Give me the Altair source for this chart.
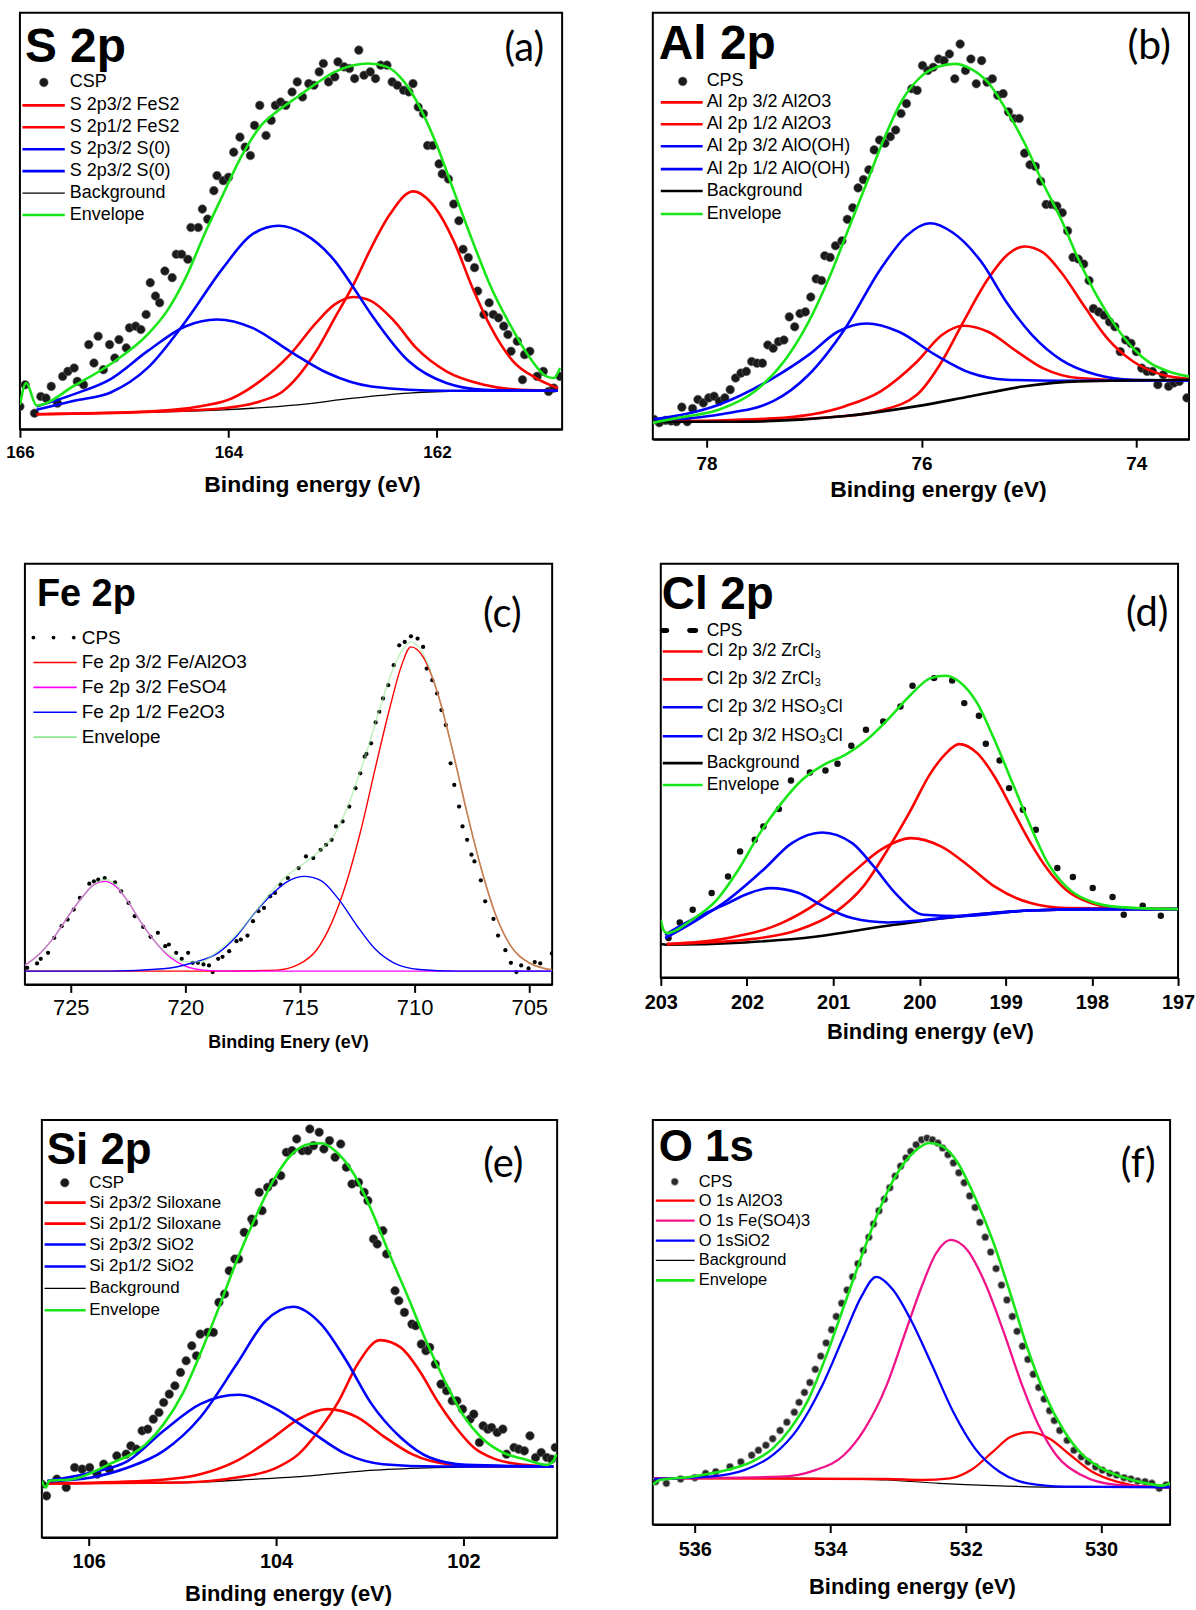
import altair as alt
import pandas as pd

FONT = "Liberation Sans"
NARROW = "Liberation Sans Narrow, Arial Narrow, Liberation Sans"
TAGFONT = "Lato, Open Sans, Liberation Sans"

RED = "#ff0000"
BLUE = "#0000ff"
GREEN = "#19e619"
BLACK = "#000000"
MAGENTA = "#ff00ff"
LIGHTGREEN = "#8fe88f"
PINK = "#f0138a"

# ---------------- (a) S 2p ----------------
A_XDOM = [166.0, 160.8]
A_YDOM = [0, 124.5]
A_TICKS = [166, 164, 162]
A_CPS = [(166.00,6.8),(165.95,13.3),(165.86,4.8),(165.80,9.8),(165.75,9.3),(165.70,12.8),(165.64,7.8),(165.59,15.8),(165.54,17.3),(165.48,18.3),(165.45,14.3),(165.39,13.3),(165.34,25.3),(165.29,19.8),(165.25,27.8),(165.20,17.8),(165.14,25.3),(165.09,21.3),(165.05,26.8),(164.98,24.3),(164.95,30.3),(164.89,30.8),(164.84,29.8),(164.79,34.3),(164.75,43.8),(164.70,39.8),(164.66,37.8),(164.61,47.3),(164.54,45.3),(164.50,52.3),(164.45,52.3),(164.39,50.8),(164.36,60.3),(164.29,60.3),(164.25,65.8),(164.20,62.8),(164.14,71.3),(164.11,75.8),(164.05,74.3),(164.00,75.3),(163.95,82.8),(163.89,87.3),(163.84,84.3),(163.79,81.8),(163.75,90.8),(163.70,96.8),(163.64,87.8),(163.59,92.3),(163.55,96.8),(163.50,97.8),(163.45,96.8),(163.39,100.8),(163.34,103.8),(163.29,99.3),(163.23,103.3),(163.18,102.8),(163.13,106.8),(163.09,109.3),(163.04,103.8),(162.98,105.3),(162.95,109.8),(162.89,108.3),(162.84,107.8),(162.79,104.8),(162.75,113.3),(162.70,105.8),(162.64,106.8),(162.59,104.8),(162.54,108.8),(162.48,108.8),(162.43,103.8),(162.38,102.8),(162.32,101.3),(162.27,100.8),(162.23,103.3),(162.18,96.3),(162.13,94.3),(162.09,84.8),(162.04,84.8),(161.98,79.3),(161.95,76.3),(161.89,74.8),(161.84,67.3),(161.79,62.3),(161.75,53.8),(161.70,51.3),(161.64,48.3),(161.61,41.3),(161.55,34.3),(161.50,37.8),(161.46,34.3),(161.41,33.3),(161.36,30.8),(161.32,28.3),(161.29,23.3),(161.23,26.3),(161.16,22.3),(161.11,23.3),(161.18,14.8),(161.04,15.8),(160.98,17.3),(160.93,11.3),(160.88,12.3),(160.82,15.8)]
A_BG = [(165.84,4.5),(164.77,5.1),(164.05,5.8),(163.34,7.3),(162.80,9.3),(162.27,10.8),(161.73,11.5),(160.84,11.8)]
A_R1 = [(165.84,4.5),(164.77,5.2),(164.05,6.3),(163.70,8.3),(163.48,11.3),(163.16,23.3),(162.98,33.3),(162.80,43.3),(162.63,54.3),(162.45,64.3),(162.23,71.1),(162.02,66.3),(161.84,56.3),(161.66,42.3),(161.48,30.3),(161.27,20.3),(161.05,15.3),(160.84,12.3)]
A_R2 = [(165.84,4.5),(164.77,5.3),(164.05,8.3),(163.70,14.3),(163.41,22.3),(163.16,31.8),(162.98,37.3),(162.80,39.5),(162.63,38.3),(162.41,32.3),(162.20,24.3),(161.91,17.3),(161.55,13.3),(161.20,11.8),(160.84,11.5)]
A_B1 = [(165.84,5.8),(165.48,8.5),(165.13,11.0),(164.77,18.5),(164.41,32.3),(164.05,48.3),(163.77,58.3),(163.52,60.8),(163.27,58.3),(162.98,50.3),(162.80,42.3),(162.63,34.3),(162.27,20.3),(161.91,13.8),(161.55,11.8),(160.84,11.5)]
A_B2 = [(165.84,6.8),(165.48,10.5),(165.13,15.0),(164.77,23.5),(164.41,30.8),(164.11,32.8),(163.77,30.3),(163.41,23.3),(163.05,16.8),(162.63,12.8),(161.91,11.5),(160.84,11.5)]
A_ENV = [(166.00,7.3),(165.94,13.8),(165.84,7.1),(165.48,13.0),(165.13,19.5),(164.77,28.5),(164.59,35.3),(164.41,45.3),(164.23,58.3),(164.05,70.3),(163.88,81.3),(163.70,90.3),(163.52,95.3),(163.34,99.3),(163.16,103.3),(162.98,106.8),(162.80,108.8),(162.66,109.3),(162.48,108.3),(162.34,104.8),(162.20,98.3),(162.02,86.3),(161.84,71.3),(161.66,56.3),(161.48,42.3),(161.30,31.3),(161.13,22.3),(160.95,15.8),(160.88,15.3),(160.82,18.3)]
A_LABELS = ["CSP", "S 2p3/2 FeS2", "S 2p1/2 FeS2", "S 2p3/2 S(0)", "S 2p3/2 S(0)", "Background", "Envelope"]

# ---------------- (b) Al 2p ----------------
B_XDOM = [78.5, 73.51]
B_YDOM = [0, 129]
B_TICKS = [78, 76, 74]
B_CPS = [(78.49,6.0),(78.44,5.0),(78.38,5.7),(78.33,5.5),(78.28,5.3),(78.23,9.7),(78.18,5.3),(78.13,9.3),(78.08,12.0),(78.03,11.0),(77.98,12.5),(77.93,13.0),(77.88,11.5),(77.83,12.5),(77.78,15.0),(77.73,18.5),(77.68,20.0),(77.63,20.5),(77.58,23.5),(77.53,23.0),(77.48,23.0),(77.43,28.5),(77.38,27.5),(77.33,29.5),(77.28,30.0),(77.23,37.0),(77.18,34.0),(77.13,38.0),(77.08,38.5),(77.03,43.0),(76.98,48.5),(76.93,48.0),(76.90,55.5),(76.85,55.0),(76.80,58.5),(76.74,60.0),(76.69,66.5),(76.64,70.0),(76.59,76.0),(76.54,78.5),(76.49,81.5),(76.44,87.5),(76.39,90.5),(76.34,89.5),(76.29,91.5),(76.24,93.5),(76.19,98.5),(76.14,101.5),(76.09,106.0),(76.04,105.5),(75.99,113.0),(75.94,111.5),(75.89,112.5),(75.84,115.0),(75.79,114.5),(75.74,116.5),(75.69,109.0),(75.64,119.5),(75.59,111.5),(75.54,115.0),(75.49,107.5),(75.44,114.5),(75.39,108.0),(75.34,109.0),(75.29,104.0),(75.24,104.5),(75.19,99.0),(75.14,97.0),(75.09,97.0),(75.04,86.5),(74.99,83.0),(74.94,82.5),(74.89,78.0),(74.84,71.0),(74.79,71.0),(74.74,70.5),(74.69,68.5),(74.64,63.0),(74.59,55.0),(74.54,54.5),(74.49,53.0),(74.44,48.0),(74.40,39.5),(74.35,38.5),(74.30,37.5),(74.25,35.5),(74.20,34.0),(74.15,26.5),(74.10,30.0),(74.05,29.0),(74.00,26.5),(73.95,21.5),(73.90,20.5),(73.85,20.5),(73.80,16.5),(73.75,19.5),(73.70,16.0),(73.65,17.0),(73.60,17.5),(73.53,12.5)]
B_BG = [(78.49,5.3),(77.72,5.3),(76.71,7.0),(76.04,10.0),(75.54,13.0),(75.04,16.0),(74.54,17.5),(73.51,18.0)]
B_R1 = [(78.49,5.3),(77.72,5.5),(76.71,7.0),(76.38,8.7),(76.04,13.5),(75.81,23.5),(75.61,35.5),(75.38,48.5),(75.21,55.5),(75.04,58.3),(74.87,56.5),(74.70,50.5),(74.47,39.5),(74.27,30.5),(74.03,23.5),(73.76,19.5),(73.51,18.3)]
B_R2 = [(78.49,5.3),(77.38,6.3),(76.71,10.0),(76.38,14.5),(76.04,23.5),(75.81,31.5),(75.61,34.3),(75.38,32.5),(75.11,26.5),(74.87,21.5),(74.54,18.5),(74.03,17.8),(73.51,18.0)]
B_B1 = [(78.49,5.7),(77.88,7.5),(77.38,11.5),(77.05,19.5),(76.71,33.5),(76.38,51.5),(76.14,61.5),(75.92,65.3),(75.71,62.5),(75.44,53.5),(75.21,41.5),(74.97,31.5),(74.70,24.0),(74.37,19.5),(74.03,18.0),(73.51,17.8)]
B_B2 = [(78.49,6.0),(77.88,10.5),(77.38,18.5),(77.05,25.5),(76.78,32.5),(76.51,35.0),(76.21,32.5),(75.87,25.5),(75.54,20.0),(75.21,18.0),(74.70,17.7),(73.51,17.8)]
B_ENV = [(78.50,5.0),(78.22,6.7),(77.88,9.0),(77.55,14.5),(77.28,23.5),(77.05,35.5),(76.85,49.5),(76.68,63.5),(76.51,77.5),(76.34,91.5),(76.18,102.5),(76.01,109.5),(75.84,112.7),(75.69,113.5),(75.54,112.0),(75.37,107.5),(75.21,99.5),(75.04,89.5),(74.87,77.5),(74.70,66.5),(74.54,54.5),(74.37,43.5),(74.20,34.5),(74.03,27.5),(73.87,23.0),(73.70,20.5),(73.51,19.0)]
B_LABELS = ["CPS", "Al 2p 3/2 Al2O3", "Al 2p 1/2 Al2O3", "Al 2p 3/2 AlO(OH)", "Al 2p 1/2 AlO(OH)", "Background", "Envelope"]

# ---------------- (c) Fe 2p ----------------
C_XDOM = [727.0, 704.0]
C_YDOM = [0, 126.5]
C_TICKS = [725, 720, 715, 710, 705]
C_CPS = [(727.06,1.5),(726.90,5.0),(726.47,6.3),(726.31,7.7),(725.99,9.5),(725.72,14.0),(725.40,17.5),(725.14,19.5),(724.87,22.5),(724.60,26.0),(724.19,30.3),(723.99,31.0),(723.80,31.5),(723.52,32.0),(723.07,30.7),(722.80,28.0),(722.48,24.5),(722.21,20.5),(721.84,17.3),(721.52,14.3),(721.20,15.5),(720.88,11.5),(720.72,12.0),(720.40,9.5),(720.16,7.7),(719.88,9.5),(719.68,6.5),(719.45,6.5),(719.21,6.0),(718.97,5.7),(718.81,3.7),(718.57,7.7),(718.38,8.3),(718.09,10.0),(717.77,13.0),(717.58,13.5),(717.29,14.7),(717.05,19.0),(716.81,22.0),(716.57,23.0),(716.30,26.5),(716.09,27.5),(715.85,30.0),(715.53,32.0),(715.06,35.0),(714.74,38.5),(714.42,38.0),(714.10,40.5),(713.86,42.0),(713.62,43.5),(713.43,47.5),(713.14,49.0),(712.85,53.5),(712.58,59.0),(712.37,63.5),(712.18,68.5),(712.10,69.3),(711.90,72.5),(711.70,78.8),(711.54,82.0),(711.38,86.0),(711.15,90.0),(710.91,96.0),(710.67,102.0),(710.43,103.0),(710.16,104.7),(709.87,104.0),(709.63,101.5),(709.47,95.0),(709.23,91.5),(709.02,87.5),(708.83,82.5),(708.64,78.0),(708.43,66.5),(708.27,60.0),(708.06,53.5),(707.91,47.5),(707.71,43.5),(707.52,39.0),(707.39,37.0),(707.11,31.3),(706.92,25.0),(706.56,19.7),(706.36,14.7),(706.04,10.3),(705.80,6.5),(705.56,3.7),(705.35,5.7),(705.03,4.8),(704.76,6.7),(704.52,6.3),(704.01,9.3)]
C_RED = [(727.06,4.0),(718.57,4.0),(716.01,4.3),(715.06,6.0),(714.26,10.5),(713.62,18.5),(712.98,30.5),(712.34,46.5),(711.70,65.5),(711.07,83.5),(710.59,95.5),(710.16,101.5),(709.63,98.5),(708.99,87.5),(708.35,70.5),(707.71,51.5),(707.08,34.5),(706.44,20.5),(705.80,11.5),(705.00,6.5),(703.92,4.3)]
C_MAG = [(727.06,5.5),(726.39,9.0),(725.75,14.0),(725.11,20.5),(724.47,26.5),(723.99,30.0),(723.52,31.0),(723.04,29.5),(722.56,25.5),(721.92,18.5),(721.28,12.5),(720.64,8.0),(720.00,5.5),(719.21,4.3),(718.25,4.0),(703.92,4.0)]
C_BLUE = [(727.06,4.0),(723.36,4.0),(720.96,4.7),(719.68,6.5),(718.57,9.5),(717.77,14.5),(716.97,21.5),(716.17,27.5),(715.53,31.0),(714.82,32.5),(714.10,31.3),(713.30,25.5),(712.50,17.5),(711.70,10.5),(710.91,6.5),(709.79,4.5),(708.19,4.0),(703.92,4.0)]
C_ENV = [(727.06,5.5),(726.39,9.0),(725.75,14.0),(725.11,20.5),(724.47,26.5),(723.99,30.0),(723.52,31.5),(723.04,30.0),(722.56,25.5),(721.92,18.5),(721.28,12.5),(720.64,8.5),(720.00,6.8),(719.37,6.8),(718.57,10.0),(717.77,15.0),(716.97,21.5),(716.17,28.5),(715.69,32.0),(714.90,36.0),(714.10,40.5),(713.46,45.5),(712.98,52.5),(712.50,61.5),(712.02,71.5),(711.54,82.5),(711.07,92.5),(710.59,100.0),(710.16,103.0),(709.63,99.5),(708.99,87.5),(708.35,70.5),(707.71,51.5),(707.08,34.5),(706.44,20.5),(705.80,11.5),(705.00,6.5),(703.92,4.3)]
C_LABELS = ["CPS", "Fe 2p 3/2 Fe/Al2O3", "Fe 2p 3/2 FeSO4", "Fe 2p 1/2 Fe2O3", "Envelope"]

# ---------------- (d) Cl 2p ----------------
D_XDOM = [203.0, 197.0]
D_YDOM = [0, 124.1]
D_TICKS = [203, 202, 201, 200, 199, 198, 197]
D_CPS = [(202.91,11.8),(202.78,16.5),(202.63,20.3),(202.41,25.3),(202.22,30.3),(202.08,37.8),(201.91,41.3),(201.81,45.3),(201.63,50.5),(201.49,59.1),(201.27,61.5),(201.09,62.1),(200.95,64.1),(200.79,69.5),(200.62,74.3),(200.42,76.8),(200.22,81.3),(200.08,87.5),(199.83,89.8),(199.62,89.1),(199.48,82.3),(199.31,78.5),(199.23,70.1),(199.07,65.1),(198.96,56.8),(198.80,50.3),(198.65,44.3),(198.40,32.8),(198.22,30.1),(197.99,26.8),(197.76,24.1),(197.63,18.8),(197.41,21.5),(197.20,18.5)]
D_BG = [(203.0,10.0),(202.93,9.8),(202.02,10.5),(201.19,12.3),(200.37,15.5),(199.54,18.3),(198.71,20.1),(197.89,20.5),(197.0,20.5)]
D_R1 = [(202.93,10.0),(202.02,11.3),(201.40,14.3),(200.99,19.3),(200.65,27.3),(200.37,38.3),(200.12,49.3),(199.87,61.3),(199.70,67.0),(199.54,70.0),(199.33,67.3),(199.13,60.3),(198.92,50.3),(198.71,40.3),(198.51,32.3),(198.30,26.3),(198.01,22.3),(197.68,20.8),(197.0,20.5)]
D_R2 = [(202.93,10.0),(202.22,11.8),(201.60,16.3),(201.19,22.3),(200.78,31.3),(200.45,38.3),(200.10,41.8),(199.75,39.3),(199.42,33.3),(199.13,27.3),(198.71,22.3),(198.30,20.8),(197.0,20.5)]
D_B1 = [(202.95,11.8),(202.64,16.3),(202.22,23.3),(201.81,32.3),(201.48,40.3),(201.13,43.5),(200.78,40.3),(200.53,33.3),(200.28,25.3),(199.95,18.8),(199.54,18.4),(198.71,20.1),(197.89,20.5),(197.0,20.5)]
D_B2 = [(202.95,12.8),(202.64,17.3),(202.22,22.3),(202.02,24.8),(201.73,26.8),(201.40,25.3),(201.11,21.3),(200.78,17.8),(200.37,16.5),(199.95,17.2),(199.54,18.4),(198.71,20.1),(197.89,20.5),(197.0,20.5)]
D_ENV = [(203.0,17.3),(202.97,14.3),(202.93,13.3),(202.64,17.3),(202.35,23.3),(202.10,32.3),(201.85,43.3),(201.60,52.3),(201.36,59.3),(201.11,63.8),(200.86,66.8),(200.61,71.3),(200.37,77.3),(200.12,84.3),(199.87,89.8),(199.70,90.5),(199.54,88.8),(199.33,82.3),(199.13,71.3),(198.92,58.3),(198.71,45.3),(198.51,34.3),(198.30,27.3),(198.01,22.8),(197.68,21.1),(197.0,20.5)]
D_LABELS = ["CPS", "Cl 2p 3/2 ZrCl\u2083", "Cl 2p 3/2 ZrCl\u2083", "Cl 2p 3/2 HSO\u2083Cl", "Cl 2p 3/2 HSO\u2083Cl", "Background", "Envelope"]

# ---------------- (e) Si 2p ----------------
E_XDOM = [106.5, 101.0]
E_YDOM = [0, 125.2]
E_TICKS = [106, 104, 102]
E_CPS = [(106.50,16.0),(106.45,12.5),(106.34,17.5),(106.24,15.0),(106.15,21.0),(106.07,20.5),(105.99,21.0),(105.91,19.0),(105.84,22.0),(105.78,20.5),(105.70,24.5),(105.60,25.0),(105.55,27.5),(105.49,26.5),(105.43,32.0),(105.37,32.5),(105.31,35.5),(105.25,37.5),(105.20,40.5),(105.14,43.0),(105.08,45.5),(105.02,49.5),(104.96,53.0),(104.90,57.5),(104.85,54.5),(104.81,61.0),(104.73,61.5),(104.67,61.5),(104.61,70.5),(104.55,73.0),(104.50,80.0),(104.44,83.5),(104.40,83.5),(104.34,91.5),(104.26,95.5),(104.24,94.5),(104.18,103.5),(104.15,98.0),(104.09,105.0),(104.03,106.5),(103.95,108.5),(103.89,115.5),(103.83,116.0),(103.78,119.5),(103.72,116.0),(103.66,116.0),(103.64,122.5),(103.60,117.5),(103.54,121.5),(103.49,116.5),(103.43,119.0),(103.37,114.0),(103.31,118.0),(103.25,111.0),(103.19,106.0),(103.12,106.5),(103.06,103.5),(103.02,101.0),(102.96,89.5),(102.92,88.0),(102.86,92.0),(102.82,85.0),(102.73,74.0),(102.69,71.0),(102.63,67.5),(102.55,64.0),(102.51,63.5),(102.45,58.0),(102.40,56.0),(102.36,57.0),(102.30,52.0),(102.24,46.0),(102.18,44.0),(102.12,41.0),(102.07,41.0),(102.01,38.5),(101.93,35.5),(101.89,37.0),(101.83,28.5),(101.79,33.5),(101.74,32.5),(101.70,33.0),(101.64,31.5),(101.58,32.5),(101.54,25.0),(101.46,27.0),(101.41,26.5),(101.35,26.0),(101.29,30.5),(101.23,24.0),(101.17,25.5),(101.11,24.0),(101.06,23.5),(101.02,27.0)]
E_BG = [(106.51,16.2),(105.00,16.5),(104.22,17.5),(103.64,18.5),(103.06,20.0),(102.47,20.8),(101.89,21.2),(101.04,21.3)]
E_R1 = [(106.44,16.2),(105.00,16.5),(104.42,18.0),(104.03,20.5),(103.76,25.0),(103.52,33.0),(103.33,41.0),(103.13,52.0),(102.89,59.2),(102.67,57.0),(102.47,50.0),(102.28,41.0),(102.08,33.0),(101.89,27.0),(101.66,23.5),(101.35,21.8),(101.04,21.3)]
E_R2 = [(106.44,16.2),(105.39,17.0),(104.81,19.0),(104.42,23.0),(104.03,30.0),(103.76,35.5),(103.45,38.5),(103.13,36.0),(102.86,30.5),(102.55,25.0),(102.16,22.0),(101.70,21.3),(101.04,21.3)]
E_B1 = [(106.44,16.8),(105.97,18.0),(105.58,21.0),(105.20,26.0),(104.81,36.0),(104.42,52.0),(104.11,65.0),(103.82,69.2),(103.52,64.0),(103.25,53.0),(102.98,40.0),(102.67,30.0),(102.36,24.0),(101.97,21.8),(101.04,21.3)]
E_B2 = [(106.44,17.0),(105.97,19.5),(105.58,23.0),(105.20,32.0),(104.81,40.0),(104.40,42.8),(104.03,39.0),(103.64,32.0),(103.25,25.0),(102.86,22.0),(102.28,21.3),(101.04,21.3)]
E_ENV = [(106.50,17.0),(106.46,15.0),(106.42,17.0),(106.17,17.5),(105.78,22.0),(105.39,28.0),(105.20,34.0),(105.00,43.0),(104.81,55.0),(104.61,69.0),(104.42,83.0),(104.22,96.0),(104.03,107.0),(103.83,115.0),(103.64,118.0),(103.52,118.2),(103.37,116.0),(103.17,109.0),(102.98,98.0),(102.79,85.0),(102.59,72.0),(102.40,59.0),(102.20,47.0),(102.01,37.0),(101.81,30.0),(101.58,25.5),(101.35,23.5),(101.11,21.8),(101.04,23.0),(101.01,25.0)]
E_LABELS = ["CSP", "Si 2p3/2 Siloxane", "Si 2p1/2 Siloxane", "Si 2p3/2 SiO2", "Si 2p1/2 SiO2", "Background", "Envelope"]

# ---------------- (f) O 1s ----------------
F_XDOM = [536.62, 528.98]
F_YDOM = [0, 122.5]
F_TICKS = [536, 534, 532, 530]
F_CPS = [(536.58,13.0),(536.42,12.5),(536.21,13.8),(536.00,14.2),(535.84,15.5),(535.69,16.0),(535.48,17.5),(535.32,19.0),(535.16,21.0),(535.06,22.5),(534.95,24.0),(534.85,26.0),(534.74,28.5),(534.64,31.0),(534.53,34.0),(534.46,37.0),(534.38,40.0),(534.30,43.0),(534.22,47.0),(534.14,51.0),(534.06,55.0),(533.98,59.0),(533.91,63.0),(533.83,67.0),(533.75,71.0),(533.67,75.0),(533.59,79.0),(533.51,83.0),(533.43,87.0),(533.36,91.0),(533.28,95.0),(533.20,98.5),(533.12,102.0),(533.04,105.5),(532.96,108.5),(532.88,111.0),(532.81,113.0),(532.73,115.0),(532.65,116.5),(532.57,117.0),(532.49,116.5),(532.41,115.5),(532.34,114.0),(532.26,112.0),(532.18,109.5),(532.10,106.5),(532.02,103.5),(531.94,99.5),(531.86,96.0),(531.79,91.5),(531.71,87.0),(531.63,82.5),(531.55,77.5),(531.47,72.5),(531.39,68.0),(531.31,63.0),(531.24,58.5),(531.16,54.0),(531.08,50.0),(531.00,45.5),(530.92,41.5),(530.84,38.0),(530.76,34.5),(530.69,31.5),(530.61,28.5),(530.50,25.5),(530.40,22.5),(530.29,20.5),(530.19,19.0),(530.08,17.5),(529.98,16.5),(529.87,15.5),(529.77,15.0),(529.66,14.2),(529.56,13.8),(529.46,13.2),(529.35,13.0),(529.25,12.5),(529.14,11.0),(529.04,12.0)]
F_BG = [(536.60,14.0),(535.27,14.2),(534.22,14.0),(533.17,13.5),(532.39,12.5),(531.60,11.8),(530.55,11.3),(528.98,11.3)]
F_BLUE = [(536.60,13.8),(535.79,14.5),(535.27,16.5),(534.85,21.0),(534.48,29.0),(534.12,42.0),(533.80,57.0),(533.54,69.0),(533.32,75.0),(533.07,71.0),(532.81,62.0),(532.49,48.0),(532.18,34.0),(531.86,23.0),(531.50,16.0),(531.08,12.5),(530.55,11.5),(528.98,11.3)]
F_PINK = [(536.60,14.0),(534.74,14.5),(534.22,16.5),(533.80,21.0),(533.49,29.0),(533.17,42.0),(532.91,57.0),(532.65,72.0),(532.44,82.0),(532.22,86.2),(531.97,83.0),(531.71,73.0),(531.45,59.0),(531.18,43.0),(530.92,30.0),(530.66,21.0),(530.29,15.0),(529.77,12.0),(528.98,11.3)]
F_RED = [(536.60,14.0),(533.17,13.8),(532.65,13.5),(532.23,14.0),(531.92,16.5),(531.60,22.0),(531.34,26.5),(531.05,28.0),(530.76,26.0),(530.45,21.0),(530.13,16.0),(529.77,13.0),(529.35,11.5),(528.98,11.3)]
F_ENV = [(536.62,12.0),(536.52,13.5),(536.05,14.5),(535.53,16.5),(535.16,19.0),(534.85,23.0),(534.59,29.0),(534.32,38.0),(534.06,51.0),(533.80,66.0),(533.54,81.0),(533.28,95.0),(533.02,106.0),(532.75,113.0),(532.54,115.5),(532.34,114.5),(532.13,110.0),(531.86,99.0),(531.60,86.0),(531.34,70.0),(531.08,53.0),(530.82,39.0),(530.55,28.5),(530.29,21.5),(530.03,17.5),(529.77,15.0),(529.40,12.8),(529.09,11.8),(528.98,12.5)]
F_LABELS = ["CPS", "O 1s Al2O3", "O 1s Fe(SO4)3", "O 1sSiO2", "Background", "Envelope"]

X_TITLE = "Binding energy (eV)"
X_TITLE_C = "Binding Enery (eV)"


def frame(pairs):
    return pd.DataFrame(pairs, columns=["x", "y"])


def one():
    return pd.DataFrame({"k": [0]})


def vtext(label, x, y, size, font=FONT, weight="normal", align="left", baseline="middle"):
    return alt.Chart(pd.DataFrame({"t": [label]})).mark_text(
        align=align, baseline=baseline, font=font, fontSize=size,
        fontWeight=weight, color="black"
    ).encode(x=alt.value(x), y=alt.value(y), text="t:N")


def vrule(x1, x2, y, color, w, cap="butt"):
    return alt.Chart(one()).mark_rule(color=color, strokeWidth=w, strokeCap=cap).encode(
        x=alt.value(x1), x2=alt.value(x2), y=alt.value(y))


def vdot(x, y, size, fill, stroke="#555555", sw=0.5):
    return alt.Chart(one()).mark_point(
        filled=True, shape="circle", size=size, fill=fill, stroke=stroke,
        strokeWidth=sw, opacity=1
    ).encode(x=alt.value(x), y=alt.value(y))


def panel(p):
    xs = alt.Scale(domain=p["xdom"], nice=False, zero=False)
    ys = alt.Scale(domain=p["ydom"], nice=False, zero=False)
    ax = alt.Axis(
        values=p["ticks"], format="d", labelFont=p.get("lfont", FONT),
        labelFontSize=p["lsize"], labelFontWeight=p.get("lweight", "bold"),
        labelColor="black", labelFlush=False, labelPadding=p["lpad"],
        labelOverlap=False, tickSize=8, tickWidth=2, tickColor="black",
        domainColor="black", domainWidth=2, grid=False,
        title=p["xtitle"], titleFont=FONT, titleFontSize=p["tsize"],
        titleFontWeight="bold", titleColor="black", titleX=p["tx"],
        titleY=p["ty"], titleAlign="center", titleBaseline="middle",
    )
    X = alt.X("x:Q", scale=xs, axis=ax)
    Y = alt.Y("y:Q", scale=ys, axis=None)
    layers = []
    cp = p["cps"]
    layers.append(
        alt.Chart(frame(cp["pairs"])).mark_point(
            filled=True, shape="circle", size=cp["size"], fill=cp["fill"],
            stroke=cp["stroke"], strokeWidth=cp["sw"], opacity=1, clip=True
        ).encode(x=X, y=Y)
    )
    for pairs, color, w, op in p["curves"]:
        layers.append(
            alt.Chart(frame(pairs)).mark_line(
                color=color, strokeWidth=w, opacity=op,
                interpolate="monotone", clip=True
            ).encode(x=X, y=Y)
        )
    lg = p["legend"]
    for i, (kind, label, color, w) in enumerate(lg["entries"]):
        y = lg["rows"][i]
        if kind == "point":
            layers.append(vdot(lg["cx"], y, cp["size"], cp["fill"], cp["stroke"], cp["sw"]))
        elif kind == "dots3":
            for dx in lg["dots"]:
                layers.append(vdot(dx, y, 14, "#000000", "#000000", 0))
        elif kind == "dash2":
            for a, b in lg["dashes"]:
                layers.append(vrule(a, b, y, "#000000", 5, "round"))
        else:
            layers.append(vrule(lg["x1"], lg["x2"], y, color, w))
        layers.append(vtext(label, lg["tx"], y, lg["size"]))
    t = p["title"]
    layers.append(vtext(t["text"], t["x"], t["y"], t["size"], weight="bold", baseline="alphabetic"))
    g = p["tag"]
    layers.append(vtext(g["text"], g["x"], g["y"], g["size"], font=TAGFONT, align="center", baseline="alphabetic"))
    return alt.layer(*layers).properties(
        width=p["w"], height=p["h"],
        view=alt.ViewBackground(stroke="black", strokeWidth=2),
    )


def spacer(w, h):
    return alt.Chart(one()).mark_point(opacity=0, size=1).encode(
        x=alt.value(w / 2), y=alt.value(h / 2)
    ).properties(width=w, height=h,
                 view=alt.ViewBackground(stroke="transparent", strokeWidth=0))


pa = panel(dict(
    w=544, h=418, xdom=A_XDOM, ydom=A_YDOM, ticks=A_TICKS, lsize=17, lpad=7,
    xtitle=X_TITLE, tsize=23, tx=293, ty=55,
    cps=dict(pairs=A_CPS, size=75, fill="#1a1a1a", stroke="#666666", sw=0.6),
    curves=[(A_BG, BLACK, 1.3, 1), (A_R1, RED, 2.6, 1), (A_R2, RED, 2.6, 1),
            (A_B1, BLUE, 2.6, 1), (A_B2, BLUE, 2.6, 1), (A_ENV, GREEN, 2.6, 1)],
    legend=dict(x1=2.5, x2=45, cx=24, tx=50, size=18,
                rows=[70, 93, 115, 137, 159, 181, 203],
                entries=[("point", A_LABELS[0], None, 0), ("line", A_LABELS[1], RED, 2.6),
                         ("line", A_LABELS[2], RED, 2.6), ("line", A_LABELS[3], BLUE, 2.6),
                         ("line", A_LABELS[4], BLUE, 2.6), ("line", A_LABELS[5], BLACK, 1.3),
                         ("line", A_LABELS[6], GREEN, 2.6)]),
    title=dict(text="S 2p", x=5, y=50, size=48),
    tag=dict(text="(a)", x=506, y=49, size=40),
))

pb = panel(dict(
    w=538, h=428, xdom=B_XDOM, ydom=B_YDOM, ticks=B_TICKS, lsize=19, lpad=7,
    xtitle=X_TITLE, tsize=23, tx=286, ty=50,
    cps=dict(pairs=B_CPS, size=75, fill="#1a1a1a", stroke="#666666", sw=0.6),
    curves=[(B_R1, RED, 2.6, 1), (B_R2, RED, 2.6, 1), (B_B1, BLUE, 2.6, 1),
            (B_B2, BLUE, 2.6, 1), (B_BG, BLACK, 2.6, 1), (B_ENV, GREEN, 2.6, 1)],
    legend=dict(x1=8, x2=50, cx=30, tx=54, size=18,
                rows=[69, 90, 112, 134, 157, 179, 202],
                entries=[("point", B_LABELS[0], None, 0), ("line", B_LABELS[1], RED, 2.6),
                         ("line", B_LABELS[2], RED, 2.6), ("line", B_LABELS[3], BLUE, 2.6),
                         ("line", B_LABELS[4], BLUE, 2.6), ("line", B_LABELS[5], BLACK, 2.6),
                         ("line", B_LABELS[6], GREEN, 2.6)]),
    title=dict(text="Al 2p", x=6, y=47, size=48),
    tag=dict(text="(b)", x=498, y=47, size=41),
))

pc = panel(dict(
    w=529, h=422, xdom=C_XDOM, ydom=C_YDOM, ticks=C_TICKS, lsize=22, lpad=5,
    lfont=NARROW, lweight="normal",
    xtitle=X_TITLE_C, tsize=18, tx=264, ty=58,
    cps=dict(pairs=C_CPS, size=18, fill="#000000", stroke="#000000", sw=0),
    curves=[(C_RED, RED, 1.4, 1), (C_MAG, MAGENTA, 1.4, 1), (C_BLUE, BLUE, 1.4, 1),
            (C_ENV, LIGHTGREEN, 1.6, 0.55)],
    legend=dict(x1=8.5, x2=52, cx=24, tx=57, size=19, dots=[8.5, 28.7, 49],
                rows=[74, 99, 124, 149, 174],
                entries=[("dots3", C_LABELS[0], None, 0), ("line", C_LABELS[1], RED, 1.6),
                         ("line", C_LABELS[2], MAGENTA, 1.6), ("line", C_LABELS[3], BLUE, 1.6),
                         ("line", C_LABELS[4], LIGHTGREEN, 1.8)]),
    title=dict(text="Fe 2p", x=12, y=42, size=38),
    tag=dict(text="(c)", x=479, y=63, size=40),
))

pd_ = panel(dict(
    w=519, h=415, xdom=D_XDOM, ydom=D_YDOM, ticks=D_TICKS, lsize=20, lpad=7,
    xtitle=X_TITLE, tsize=22, tx=270, ty=54,
    cps=dict(pairs=D_CPS, size=42, fill="#111111", stroke="#111111", sw=0),
    curves=[(D_BG, BLACK, 2.6, 1), (D_R1, RED, 2.6, 1), (D_R2, RED, 2.6, 1),
            (D_B1, BLUE, 2.6, 1), (D_B2, BLUE, 2.6, 1), (D_ENV, GREEN, 2.6, 1)],
    legend=dict(x1=2, x2=42, cx=20, tx=46, size=17.5, dashes=[(1.5, 6), (29, 35)],
                rows=[67, 88, 116, 144, 173, 200, 222],
                entries=[("dash2", D_LABELS[0], None, 0), ("line", D_LABELS[1], RED, 2.6),
                         ("line", D_LABELS[2], RED, 2.6), ("line", D_LABELS[3], BLUE, 2.6),
                         ("line", D_LABELS[4], BLUE, 2.6), ("line", D_LABELS[5], BLACK, 2.6),
                         ("line", D_LABELS[6], GREEN, 2.6)]),
    title=dict(text="Cl 2p", x=1, y=45, size=46),
    tag=dict(text="(d)", x=488, y=62, size=40),
))

pe = panel(dict(
    w=517, h=419, xdom=E_XDOM, ydom=E_YDOM, ticks=E_TICKS, lsize=20, lpad=6,
    xtitle=X_TITLE, tsize=22, tx=247, ty=56,
    cps=dict(pairs=E_CPS, size=75, fill="#1a1a1a", stroke="#666666", sw=0.6),
    curves=[(E_BG, BLACK, 1.3, 1), (E_R1, RED, 2.6, 1), (E_R2, RED, 2.6, 1),
            (E_B1, BLUE, 2.6, 1), (E_B2, BLUE, 2.6, 1), (E_ENV, GREEN, 2.6, 1)],
    legend=dict(x1=2.7, x2=44, cx=23, tx=47.6, size=17,
                rows=[63, 83, 104, 125, 147, 169, 191],
                entries=[("point", E_LABELS[0], None, 0), ("line", E_LABELS[1], RED, 2.6),
                         ("line", E_LABELS[2], RED, 2.6), ("line", E_LABELS[3], BLUE, 2.6),
                         ("line", E_LABELS[4], BLUE, 2.6), ("line", E_LABELS[5], BLACK, 1.3),
                         ("line", E_LABELS[6], GREEN, 2.6)]),
    title=dict(text="Si 2p", x=5, y=44, size=44),
    tag=dict(text="(e)", x=463, y=57, size=40),
))

pf = panel(dict(
    w=519, h=406, xdom=F_XDOM, ydom=F_YDOM, ticks=F_TICKS, lsize=20, lpad=7,
    xtitle=X_TITLE, tsize=22, tx=260, ty=62,
    cps=dict(pairs=F_CPS, size=55, fill="#2a2a2a", stroke="#bbbbbb", sw=0.8),
    curves=[(F_BG, BLACK, 1.2, 1), (F_RED, RED, 2.3, 1), (F_PINK, PINK, 2.3, 1),
            (F_BLUE, BLUE, 2.3, 1), (F_ENV, GREEN, 2.6, 1)],
    legend=dict(x1=3, x2=42, cx=22, tx=46, size=16.5,
                rows=[62, 81, 101, 121, 141, 161],
                entries=[("point", F_LABELS[0], None, 0), ("line", F_LABELS[1], RED, 2.3),
                         ("line", F_LABELS[2], PINK, 2.3), ("line", F_LABELS[3], BLUE, 2.3),
                         ("line", F_LABELS[4], BLACK, 1.3), ("line", F_LABELS[5], GREEN, 2.6)]),
    title=dict(text="O 1s", x=6, y=41, size=44),
    tag=dict(text="(f)", x=487, y=57, size=40),
))

row1 = alt.hconcat(spacer(4, 552), pa, spacer(89, 10), pb, spacing=0).resolve_scale(
    x="independent", y="independent")
row2 = alt.hconcat(spacer(24, 557), pc, spacer(90, 10), pd_, spacing=0).resolve_scale(
    x="independent", y="independent")
row3 = alt.hconcat(spacer(41, 10), pe, spacer(94, 10), pf, spacing=0).resolve_scale(
    x="independent", y="independent")

chart = alt.vconcat(row1, row2, row3, spacing=0).resolve_scale(
    x="independent", y="independent"
).properties(
    padding={"left": 0, "top": 9, "right": 0, "bottom": 0}
).configure_view(stroke="transparent").configure(background="white")

chart.save("out.html", embed_options={"renderer": "svg", "actions": False})
